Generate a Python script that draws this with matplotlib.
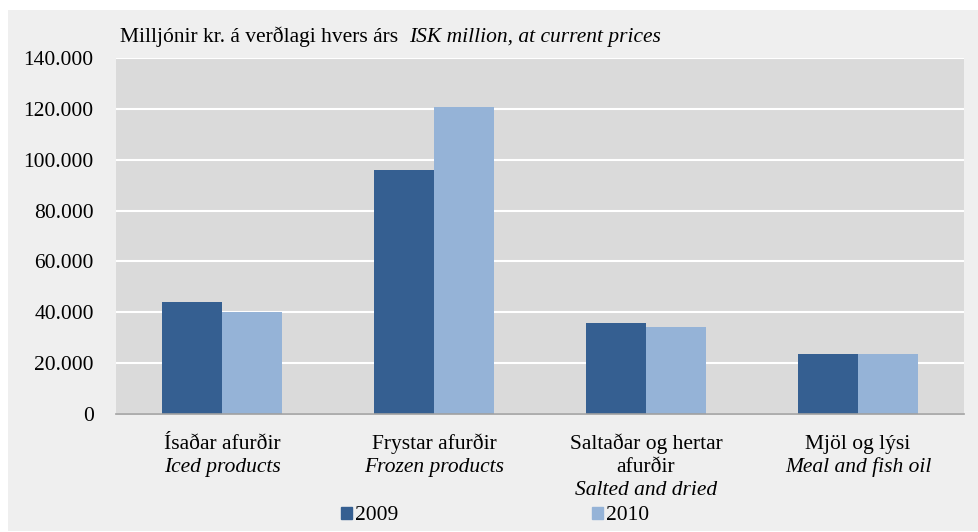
import matplotlib.pyplot as plt
import numpy as np
from matplotlib.patches import Rectangle, Patch
from matplotlib.ticker import FuncFormatter

plt.rcParams['font.family'] = ['Liberation Serif', 'DejaVu Serif']

# ---- data (ISK million) ----
cats_is = ["Ísaðar afurðir", "Frystar afurðir", "Saltaðar og hertar\nafurðir", "Mjöl og lýsi"]
cats_en = ["Iced products", "Frozen products", "Salted and dried", "Meal and fish oil"]
years = ["2009", "2010"]
v2009 = [43900, 95900, 35700, 23700]
v2010 = [40200, 120700, 34400, 23700]

c2009 = '#355f91'
c2010 = '#95b3d7'
fs = 15.5

W, H = 979, 532
fig = plt.figure(figsize=(W / 100, H / 100), dpi=100, facecolor='white')

# light grey panel behind the chart
fig.patches.append(Rectangle((8 / W, 1 / H), (W - 8) / W, (531 - 10) / H,
                             transform=fig.transFigure, facecolor='#efefef',
                             edgecolor='none', zorder=-1))

ax = fig.add_axes([116 / W, (H - 414) / H, 848 / W, 356 / H])
ax.set_zorder(2)
ax.set_facecolor('#dadada')

x = np.arange(len(cats_is))
bw = 0.285
ax.bar(x - bw / 2, v2009, bw, color=c2009, zorder=3)
ax.bar(x + bw / 2, v2010, bw, color=c2010, zorder=3)

ax.set_xlim(-0.5, len(cats_is) - 0.5)
ax.set_ylim(0, 140000)
ax.set_yticks(np.arange(0, 140001, 20000))
ax.yaxis.set_major_formatter(FuncFormatter(lambda v, p: f"{int(v):,}".replace(',', '.')))
ax.tick_params(axis='y', length=0, pad=16, labelsize=fs)
ax.set_xticks([])
ax.grid(axis='y', color='white', lw=1.5, zorder=1)
for s in ['top', 'right', 'left']:
    ax.spines[s].set_visible(False)
ax.spines['bottom'].set_color('#a0a0a0')
ax.spines['bottom'].set_linewidth(1.2)
ax.spines['bottom'].set_zorder(4)

# category labels: Icelandic (normal) + English (italic)
trans = ax.get_xaxis_transform()
for i in range(len(cats_is)):
    lines_is = cats_is[i].split('\n')
    y0 = -35 / 356
    step = 23 / 356
    for j, ln in enumerate(lines_is):
        ax.text(x[i], y0 - j * step, ln, transform=trans, ha='center',
                va='baseline', fontsize=fs)
    ax.text(x[i], y0 - len(lines_is) * step, cats_en[i], transform=trans,
            ha='center', va='baseline', fontsize=fs, style='italic')

# unit title
fig.text(120 / W, 1 - 42 / H, "Milljónir kr. á verðlagi hvers árs", fontsize=fs,
         va='baseline', ha='left')
fig.text(409 / W, 1 - 42 / H, "ISK million, at current prices", fontsize=fs,
         va='baseline', ha='left', style='italic')

handles = [Patch(color=c2009, label=years[0]), Patch(color=c2010, label=years[1])]
fig.legend(handles=handles, ncol=2, loc='center', bbox_to_anchor=(495 / W, 1 - 516 / H),
           frameon=False, fontsize=fs, handlelength=0.5, handleheight=0.5,
           handletextpad=0.15, columnspacing=9.0, borderaxespad=0)

fig.savefig('out.png', dpi=100, facecolor='white')
